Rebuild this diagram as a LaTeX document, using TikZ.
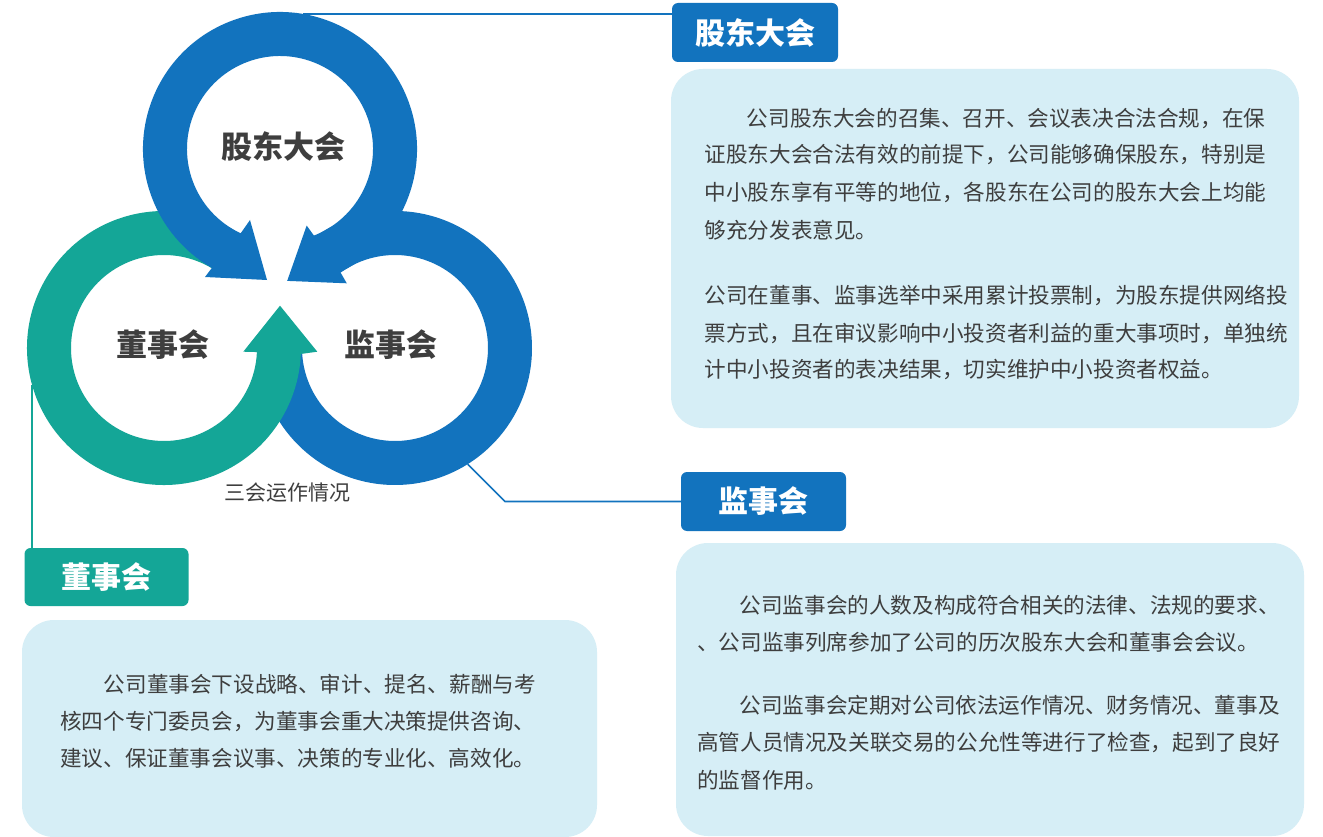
\documentclass[tikz,border=0pt]{standalone}
\usepackage{fontspec}
\setmainfont{Noto Sans CJK SC}
\usetikzlibrary{calc}
\definecolor{cblue}{RGB}{18,115,190}
\definecolor{cteal}{RGB}{20,166,151}
\definecolor{clight}{RGB}{214,238,246}
\definecolor{ctext}{RGB}{62,62,62}
\tikzset{
  ringlabel/.style={text=ctext,font=\fontsize{31}{36}\selectfont\bfseries,inner sep=0},
  tag/.style={rounded corners=6pt,text=white,font=\fontsize{30}{36}\selectfont\bfseries,inner sep=0,align=center},
  tbox/.style={fill=clight,rounded corners=32pt,inner sep=0},
  body/.style={text=ctext,font=\fontsize{21.6}{26}\selectfont,inner sep=0,anchor=west},
  conn/.style={line width=1.6pt},
}
\begin{document}
\begin{tikzpicture}[x=1pt,y=1pt]
\useasboundingbox (0,0) rectangle (1323,-837);
\fill[white] (0,0) rectangle (1323,-837);
\coordinate (TC) at (280,-149);
\coordinate (LC) at (164,-348);
\coordinate (RC) at (395,-348);
% right ring (blue)
\fill[cblue] ($(RC)+(181:137)$) arc[start angle=181,end angle=485.8,radius=137]
  -- ($(RC)+(125.8:151)$) -- ($(RC)+(148.1:127)$) -- ($(RC)+(126.7:80.7)$)
  -- ($(RC)+(125.8:93)$) arc[start angle=485.8,end angle=181,radius=93] -- cycle;
% left ring (teal)
\fill[cteal] ($(LC)+(55:137)$) arc[start angle=55,end angle=357.5,radius=137]
  -- (317.3,-351.7) -- (280,-305.7) -- (243.3,-351.7)
  -- ($(LC)+(357.5:93)$) arc[start angle=357.5,end angle=55,radius=93] -- cycle;
% top ring (blue)
\fill[cblue] ($(TC)+(290:137)$) arc[start angle=290,end angle=600.2,radius=137]
  -- (205,-277) -- (267,-280) -- (250,-220)
  -- ($(TC)+(245:93)$) arc[start angle=605,end angle=290,radius=93] -- cycle;
% ring labels
\node[ringlabel] (rgd) at (283,-147) {股东大会};
\node[ringlabel] (rds) at (162.5,-345) {董事会};
\node[ringlabel] (rjs) at (391,-345) {监事会};
\node[text=ctext,font=\fontsize{21}{25}\selectfont,inner sep=0] (cap) at (287.5,-493) {三会运作情况};
% text boxes
\node[tbox,minimum width=628pt,minimum height=359pt] (box1) at (985,-248.5) {};
\node[tbox,minimum width=628pt,minimum height=293pt] (box2) at (990,-689.5) {};
\node[tbox,minimum width=575pt,minimum height=217pt] (box3) at (309.5,-728.5) {};
% tags
\node[tag,fill=cblue,minimum width=166pt,minimum height=59pt] (tgd) at (755,-32.5) {股东大会};
\node[tag,fill=cblue,minimum width=165pt,minimum height=59pt] (tjs) at (763.5,-501.5) {监事会};
\node[tag,fill=cteal,minimum width=164pt,minimum height=58pt] (tds) at (106.5,-577) {董事会};
% connectors
\coordinate (a1) at ($(TC)+(80.2:137)$);
\draw[conn,cblue] (a1) -- (a1 -| tgd.west);
\coordinate (a2) at ($(RC)+(-58:137)$);
\coordinate (b2) at (505,-501.5);
\draw[conn,cblue] (a2) -- (b2) -- (tjs.west);
\coordinate (a3) at ($(LC)+(195.5:137)$);
\draw[conn,cteal] (a3) -- (a3 |- tds.north);
% box 1 text
\node[body] (t11) at (746.7,-118.3) {公司股东大会的召集、召开、会议表决合法合规，在保};
\node[body] (t12) at (704.4,-155) {证股东大会合法有效的前提下，公司能够确保股东，特别是};
\node[body] (t13) at (704.4,-192.7) {中小股东享有平等的地位，各股东在公司的股东大会上均能};
\node[body] (t14) at (704.4,-230) {够充分发表意见。};
\node[body] (t15) at (704.4,-295) {公司在董事、监事选举中采用累计投票制，为股东提供网络投};
\node[body] (t16) at (704.4,-333.3) {票方式，且在审议影响中小投资者利益的重大事项时，单独统};
\node[body] (t17) at (704.4,-370) {计中小投资者的表决结果，切实维护中小投资者权益。};
% box 2 text
\node[body] (t21) at (739.5,-605) {公司监事会的人数及构成符合相关的法律、法规的要求、};
\node[body] (t22) at (697,-642.7) {、公司监事列席参加了公司的历次股东大会和董事会会议。};
\node[body] (t23) at (739.5,-705) {公司监事会定期对公司依法运作情况、财务情况、董事及};
\node[body] (t24) at (697,-742.7) {高管人员情况及关联交易的公允性等进行了检查，起到了良好};
\node[body] (t25) at (697,-780) {的监督作用。};
% box 3 text
\node[body] (t31) at (103.6,-684) {公司董事会下设战略、审计、提名、薪酬与考};
\node[body] (t32) at (60,-721.7) {核四个专门委员会，为董事会重大决策提供咨询、};
\node[body] (t33) at (60,-758) {建议、保证董事会议事、决策的专业化、高效化。};
\end{tikzpicture}
\end{document}
